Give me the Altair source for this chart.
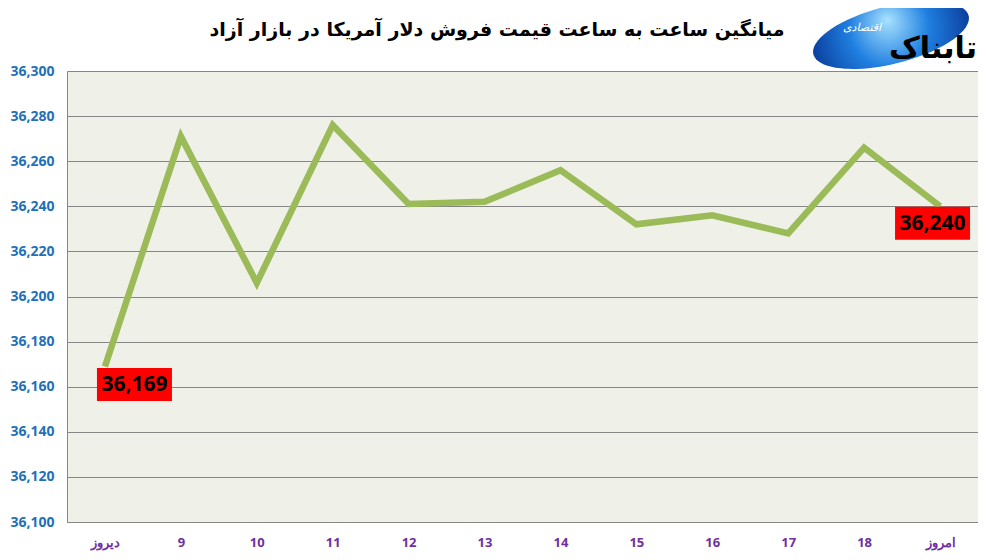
import altair as alt
import pandas as pd

categories = ["دیروز", "9", "10", "11", "12", "13", "14", "15", "16", "17", "18", "امروز"]
values = [36169, 36271, 36206, 36276, 36241, 36242, 36256, 36232, 36236, 36228, 36266, 36240]
y_ticks = [36100, 36120, 36140, 36160, 36180, 36200, 36220, 36240, 36260, 36280, 36300]
title_text = "میانگین ساعت به ساعت قیمت فروش دلار آمریکا در بازار آزاد"
logo_main = "تابناک"
logo_sub = "اقتصادی"

df = pd.DataFrame({"cat": categories, "value": values})
df_first = df.iloc[[0]]
df_last = df.iloc[[-1]]

x_enc = alt.X(
    "cat:N",
    sort=categories,
    scale=alt.Scale(type="point", padding=0.5),
    axis=alt.Axis(
        title=None, labelAngle=0, ticks=False, grid=False,
        domainColor="#868686", labelColor="#7030A0", labelFont="Open Sans",
        labelFontWeight="bold", labelFontSize=13, labelPadding=14,
    ),
)
y_enc = alt.Y(
    "value:Q",
    scale=alt.Scale(domain=[36100, 36300], nice=False, zero=False),
    axis=alt.Axis(
        title=None, values=y_ticks, format=",.0f", ticks=False,
        gridColor="#868686", gridOpacity=1, domainColor="#868686",
        labelColor="#1F70B8", labelFont="Open Sans", labelFontWeight="bold",
        labelFontSize=14, labelPadding=13,
    ),
)

line = alt.Chart(df).mark_line(color="#9BBB59", strokeWidth=6.5).encode(x=x_enc, y=y_enc)

box_shape = "M -1 -0.44 L 1 -0.44 L 1 0.44 L -1 0.44 Z"


def label_layers(d, dx, dy):
    box = alt.Chart(d).mark_point(
        shape=box_shape, size=5625, filled=True, color="#FF0000", opacity=1,
        xOffset=dx, yOffset=dy,
    ).encode(x=alt.X("cat:N", sort=categories), y="value:Q")
    txt = alt.Chart(d).mark_text(
        font="Open Sans", fontWeight="bold", fontSize=21, color="#000000",
        xOffset=dx, yOffset=dy + 1, baseline="middle", align="center",
    ).encode(x=alt.X("cat:N", sort=categories), y="value:Q", text=alt.Text("value:Q", format=","))
    return [box, txt]


title = alt.Chart(pd.DataFrame({"t": [title_text]})).mark_text(
    font="DejaVu Sans", fontWeight="bold", fontSize=19, color="#000000",
    align="center", baseline="middle",
).encode(x=alt.value(430), y=alt.value(-41), text="t:N")

logo_ellipse = alt.Chart(pd.DataFrame({"k": [1]})).mark_point(
    shape="M -1 0 A 1 0.36 0 1 0 1 0 A 1 0.36 0 1 0 -1 0 Z",
    size=25600, filled=True, opacity=1, angle=346,
    fill=alt.RadialGradient(
        gradient="radial", x1=0.5, y1=0.4, x2=0.5, y2=0.5, r1=0, r2=0.5,
        stops=[alt.GradientStop(offset=0, color="#a8e2ff"),
               alt.GradientStop(offset=0.5, color="#1f7fe0"),
               alt.GradientStop(offset=1, color="#0b3f9e")],
    ),
).encode(x=alt.value(824), y=alt.value(-36))

logo_text = alt.Chart(pd.DataFrame({"t": [logo_main]})).mark_text(
    font="DejaVu Sans", fontWeight="bold", fontSize=30, color="#000000",
    align="center", baseline="middle",
).encode(x=alt.value(866), y=alt.value(-22), text="t:N")

logo_text2 = alt.Chart(pd.DataFrame({"t": [logo_sub]})).mark_text(
    font="DejaVu Sans", fontSize=11, color="#FFFFFF", fontStyle="italic",
    align="center", baseline="middle",
).encode(x=alt.value(795), y=alt.value(-43), text="t:N")

chart = alt.layer(
    line,
    *label_layers(df_first, 29.5, 18),
    *label_layers(df_last, -7.5, 17),
    title, logo_ellipse, logo_text, logo_text2,
).properties(
    width=911, height=451,
    autosize=alt.AutoSizeParams(type="none"),
    padding={"left": 59, "top": 63, "right": 0, "bottom": 30},
    background="#FFFFFF",
).configure_view(fill="#EFF1E9", stroke=None)

chart.save("out.html", embed_options={"renderer": "svg", "actions": False})
